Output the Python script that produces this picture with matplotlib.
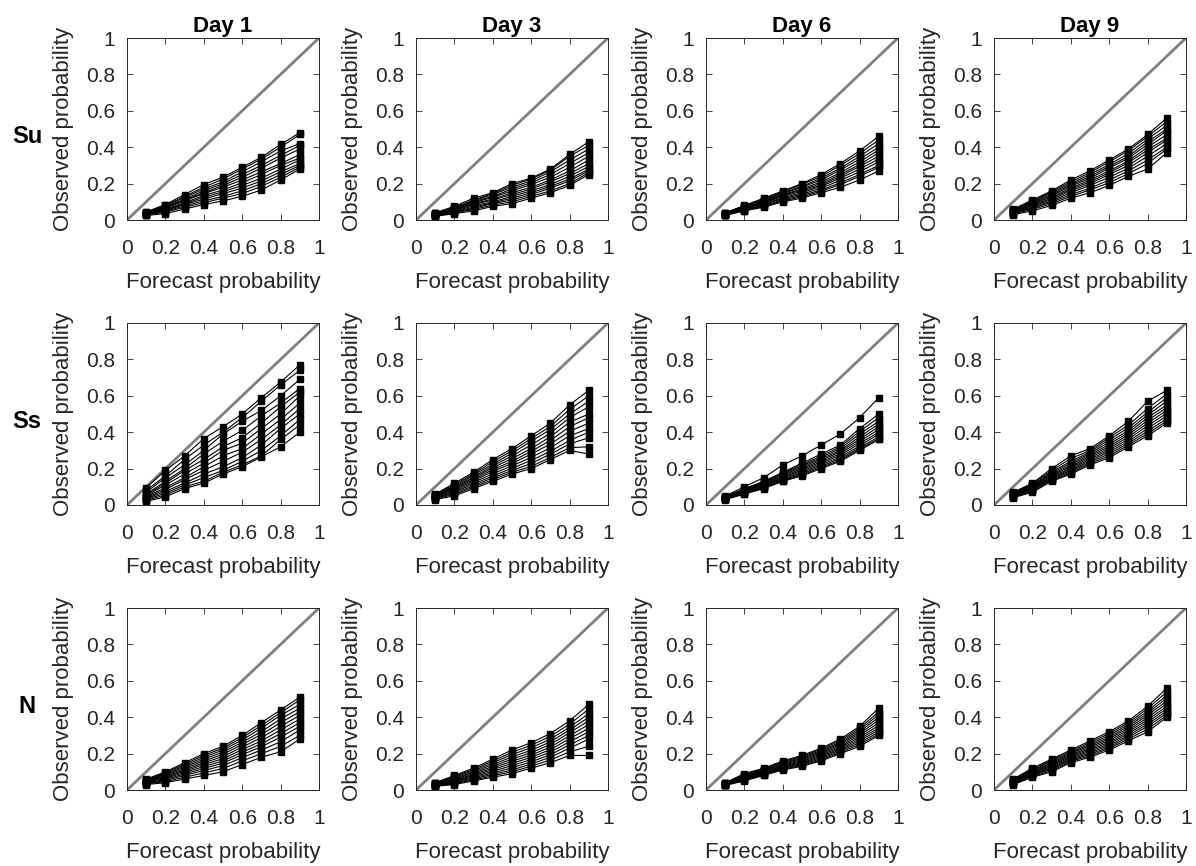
import matplotlib
matplotlib.use("Agg")
import matplotlib.pyplot as plt
import numpy as np

plt.rcParams['font.family'] = ['Liberation Sans', 'DejaVu Sans']

forecast_prob = [0.1, 0.2, 0.3, 0.4, 0.5, 0.6, 0.7, 0.8, 0.9]
row_labels = ['Su', 'Ss', 'N']
col_titles = ['Day 1', 'Day 3', 'Day 6', 'Day 9']
tick_vals = [0, 0.2, 0.4, 0.6, 0.8, 1]
tick_labels = ['0', '0.2', '0.4', '0.6', '0.8', '1']

su_day1 = [
    [.045, .085, .140, .195, .235, .290, .345, .415, .480],
    [.042, .080, .130, .180, .225, .280, .335, .400, .470],
    [.040, .075, .125, .170, .210, .265, .320, .380, .420],
    [.040, .072, .115, .160, .200, .250, .300, .355, .410],
    [.038, .068, .110, .150, .190, .235, .285, .340, .390],
    [.036, .065, .105, .145, .180, .220, .265, .310, .360],
    [.035, .060, .095, .135, .165, .205, .250, .300, .340],
    [.033, .055, .090, .125, .155, .190, .230, .280, .330],
    [.032, .052, .085, .115, .145, .175, .215, .265, .310],
    [.030, .048, .078, .105, .130, .160, .200, .250, .300],
    [.028, .043, .070, .095, .120, .145, .185, .235, .290],
    [.025, .035, .060, .085, .105, .130, .165, .220, .280],
]
su_day3 = [
    [.040, .075, .120, .150, .200, .230, .280, .360, .430],
    [.038, .070, .110, .145, .190, .225, .275, .350, .410],
    [.036, .066, .105, .140, .180, .215, .265, .330, .390],
    [.034, .062, .100, .130, .170, .205, .250, .310, .370],
    [.032, .058, .095, .125, .160, .195, .235, .290, .350],
    [.030, .055, .090, .115, .150, .180, .220, .270, .330],
    [.029, .052, .085, .110, .140, .170, .210, .255, .310],
    [.027, .048, .078, .100, .130, .160, .195, .240, .295],
    [.025, .045, .070, .095, .120, .150, .185, .225, .280],
    [.024, .042, .065, .090, .110, .140, .175, .215, .270],
    [.022, .038, .058, .082, .100, .130, .160, .200, .260],
    [.020, .035, .050, .075, .090, .120, .150, .190, .250],
]
su_day6 = [
    [.040, .080, .120, .160, .200, .250, .310, .380, .460],
    [.038, .076, .115, .155, .195, .240, .300, .365, .440],
    [.037, .072, .110, .150, .185, .230, .285, .350, .420],
    [.035, .070, .105, .145, .180, .220, .275, .335, .400],
    [.034, .067, .100, .140, .170, .210, .260, .320, .385],
    [.033, .064, .097, .135, .165, .200, .250, .305, .370],
    [.032, .062, .093, .130, .158, .192, .240, .295, .350],
    [.030, .060, .090, .122, .150, .185, .230, .280, .335],
    [.029, .057, .085, .117, .142, .175, .218, .265, .320],
    [.028, .055, .080, .110, .135, .165, .205, .250, .300],
    [.027, .052, .075, .105, .128, .158, .195, .240, .290],
    [.025, .050, .070, .100, .120, .150, .180, .220, .270],
]
su_day9 = [
    [.060, .110, .160, .220, .270, .330, .390, .470, .560],
    [.057, .105, .155, .210, .260, .320, .380, .460, .540],
    [.055, .100, .150, .200, .250, .305, .365, .445, .520],
    [.052, .095, .142, .192, .240, .295, .350, .430, .500],
    [.050, .090, .135, .185, .230, .285, .340, .415, .490],
    [.047, .085, .128, .175, .220, .270, .325, .400, .470],
    [.045, .080, .120, .168, .210, .260, .315, .385, .450],
    [.042, .075, .113, .160, .200, .250, .300, .370, .440],
    [.040, .070, .105, .150, .190, .235, .285, .350, .420],
    [.037, .065, .098, .140, .175, .220, .270, .330, .400],
    [.034, .058, .090, .130, .165, .205, .255, .310, .390],
    [.030, .050, .080, .120, .150, .190, .240, .280, .370],
]
ss_day1 = [
    [.095, .190, .270, .365, .430, .500, .590, .675, .770],
    [.080, .160, .250, .330, .400, .480, .570, .660, .740],
    [.070, .150, .220, .300, .390, .460, .520, .600, .690],
    [.060, .130, .200, .280, .350, .410, .490, .560, .640],
    [.055, .120, .190, .250, .320, .370, .450, .540, .620],
    [.050, .110, .170, .230, .300, .340, .420, .500, .600],
    [.045, .095, .150, .210, .270, .310, .390, .470, .560],
    [.040, .085, .140, .190, .240, .290, .360, .440, .530],
    [.035, .075, .120, .170, .210, .260, .330, .420, .500],
    [.030, .065, .110, .150, .190, .240, .300, .380, .470],
    [.025, .055, .100, .130, .180, .220, .270, .360, .440],
    [.020, .045, .090, .120, .170, .210, .265, .320, .400],
]
ss_day3 = [
    [.060, .120, .180, .250, .310, .380, .450, .550, .630],
    [.057, .112, .172, .238, .298, .365, .432, .525, .600],
    [.054, .105, .165, .225, .285, .350, .415, .500, .570],
    [.052, .100, .155, .215, .270, .330, .395, .480, .540],
    [.050, .095, .148, .205, .255, .310, .375, .455, .500],
    [.047, .090, .140, .195, .240, .295, .355, .430, .480],
    [.045, .085, .132, .185, .228, .280, .335, .405, .450],
    [.042, .078, .124, .172, .215, .262, .315, .380, .420],
    [.039, .072, .115, .160, .202, .245, .295, .355, .400],
    [.036, .065, .106, .150, .190, .228, .280, .335, .370],
    [.033, .058, .098, .140, .180, .212, .262, .315, .320],
    [.030, .050, .090, .130, .170, .200, .250, .300, .280],
]
ss_day6 = [
    [.050, .100, .150, .220, .270, .330, .390, .480, .590],
    [.045, .090, .130, .180, .230, .280, .330, .420, .500],
    [.043, .087, .126, .175, .222, .270, .320, .405, .480],
    [.042, .084, .122, .170, .215, .262, .310, .390, .460],
    [.040, .080, .118, .164, .208, .254, .300, .375, .445],
    [.039, .077, .114, .158, .200, .246, .292, .362, .430],
    [.037, .074, .110, .152, .193, .238, .283, .350, .415],
    [.036, .071, .106, .147, .186, .230, .274, .338, .400],
    [.034, .068, .101, .142, .178, .222, .264, .325, .390],
    [.033, .065, .097, .137, .171, .214, .255, .315, .375],
    [.031, .062, .093, .133, .165, .207, .247, .308, .365],
    [.030, .060, .090, .130, .160, .200, .240, .300, .360],
]
ss_day9 = [
    [.070, .120, .200, .270, .310, .380, .460, .570, .630],
    [.067, .115, .190, .255, .300, .370, .440, .530, .610],
    [.064, .110, .182, .240, .292, .358, .425, .510, .590],
    [.061, .106, .175, .230, .284, .345, .410, .495, .570],
    [.058, .102, .168, .220, .276, .333, .398, .480, .550],
    [.056, .098, .162, .212, .268, .322, .386, .465, .535],
    [.053, .094, .156, .204, .260, .312, .374, .450, .520],
    [.050, .090, .150, .197, .252, .302, .362, .435, .505],
    [.048, .086, .145, .190, .244, .292, .350, .420, .490],
    [.045, .081, .140, .183, .236, .281, .340, .405, .475],
    [.043, .076, .135, .176, .228, .270, .330, .392, .462],
    [.040, .070, .130, .170, .220, .260, .320, .380, .450],
]
n_day1 = [
    [.060, .100, .150, .200, .240, .300, .370, .440, .510],
    [.057, .095, .142, .190, .230, .288, .355, .425, .495],
    [.054, .090, .134, .180, .220, .275, .340, .410, .470],
    [.052, .085, .126, .170, .208, .262, .322, .390, .450],
    [.049, .080, .118, .160, .196, .250, .305, .370, .430],
    [.046, .075, .110, .150, .184, .236, .288, .350, .410],
    [.044, .070, .103, .140, .172, .222, .270, .330, .390],
    [.041, .064, .096, .129, .160, .208, .254, .310, .370],
    [.038, .058, .088, .118, .148, .194, .238, .290, .350],
    [.035, .052, .080, .107, .134, .178, .220, .265, .330],
    [.033, .046, .070, .094, .118, .160, .200, .240, .300],
    [.030, .040, .060, .080, .100, .140, .180, .210, .280],
]
n_day3 = [
    [.040, .080, .120, .170, .220, .260, .310, .380, .470],
    [.038, .075, .113, .160, .207, .246, .295, .362, .445],
    [.036, .070, .106, .150, .195, .232, .280, .345, .420],
    [.034, .065, .099, .140, .182, .218, .265, .330, .400],
    [.032, .060, .092, .130, .170, .205, .250, .315, .380],
    [.030, .056, .085, .121, .158, .192, .236, .298, .360],
    [.029, .052, .079, .112, .146, .180, .222, .282, .340],
    [.027, .048, .073, .103, .134, .168, .208, .265, .320],
    [.025, .044, .067, .094, .122, .155, .194, .248, .300],
    [.024, .040, .061, .086, .110, .143, .180, .230, .280],
    [.022, .035, .055, .078, .100, .131, .165, .210, .240],
    [.020, .030, .050, .070, .090, .120, .150, .190, .190],
]
n_day6 = [
    [.040, .090, .120, .160, .190, .230, .280, .350, .450],
    [.039, .085, .116, .155, .185, .224, .272, .340, .430],
    [.037, .081, .112, .150, .179, .217, .264, .330, .415],
    [.036, .077, .108, .145, .174, .211, .257, .320, .400],
    [.034, .073, .105, .140, .168, .205, .250, .310, .385],
    [.033, .069, .101, .135, .162, .198, .242, .300, .370],
    [.032, .066, .097, .130, .157, .192, .235, .290, .355],
    [.030, .063, .094, .126, .151, .185, .228, .280, .342],
    [.029, .060, .090, .122, .146, .179, .221, .270, .330],
    [.028, .057, .087, .118, .141, .172, .214, .260, .318],
    [.027, .053, .083, .114, .135, .166, .207, .250, .308],
    [.025, .050, .080, .110, .130, .160, .200, .240, .300],
]
n_day9 = [
    [.060, .120, .170, .220, .270, .320, .380, .460, .560],
    [.057, .115, .163, .213, .261, .310, .370, .447, .540],
    [.054, .110, .156, .206, .252, .300, .360, .434, .520],
    [.052, .105, .149, .200, .244, .290, .350, .422, .505],
    [.049, .100, .143, .193, .236, .281, .340, .410, .490],
    [.047, .096, .137, .187, .228, .272, .330, .398, .475],
    [.044, .092, .131, .181, .220, .263, .320, .386, .460],
    [.042, .088, .125, .175, .212, .254, .310, .374, .447],
    [.039, .084, .119, .169, .204, .245, .300, .362, .434],
    [.036, .080, .113, .163, .196, .237, .290, .350, .422],
    [.033, .075, .106, .157, .188, .229, .280, .335, .410],
    [.030, .070, .100, .150, .180, .220, .270, .320, .400],
]

panels = [
    [su_day1, su_day3, su_day6, su_day9],
    [ss_day1, ss_day3, ss_day6, ss_day9],
    [n_day1, n_day3, n_day6, n_day9],
]

W, H = 1196, 866
fig = plt.figure(figsize=(W / 100, H / 100), dpi=100)

lefts = [127, 416, 706, 994]
tops = [38, 323, 608]
aw, ah = 192, 182

tick_fs = 15
label_fs = 16
txt_col = '#262626'
for r in range(3):
    for c in range(4):
        ax = fig.add_axes([lefts[c] / W, 1 - (tops[r] + ah) / H, aw / W, ah / H])
        ax.plot([0, 1], [0, 1], color=(0.5, 0.5, 0.5), lw=2, zorder=1)
        for series in panels[r][c]:
            ax.plot(forecast_prob, series, color='black', lw=0.8, marker='s',
                    markersize=4.8, markerfacecolor='black', markeredgecolor='black',
                    zorder=2)
        ax.set_xlim(0, 1)
        ax.set_ylim(0, 1)
        ax.set_xticks(tick_vals)
        ax.set_xticklabels(tick_labels)
        ax.set_yticks(tick_vals)
        ax.set_yticklabels(tick_labels)
        ax.tick_params(direction='in', length=4, width=0.6, top=True, right=True,
                       labelsize=tick_fs, colors=txt_col)
        ax.tick_params(axis='x', pad=14)
        ax.tick_params(axis='y', pad=8.5)
        for sp in ax.spines.values():
            sp.set_linewidth(0.7)
            sp.set_color(txt_col)
        ax.set_xlabel('Forecast probability', fontsize=label_fs, color=txt_col, labelpad=10)
        ax.set_ylabel('Observed probability', fontsize=label_fs, color=txt_col, labelpad=9)
        if r == 0:
            ax.set_title(col_titles[c], fontsize=16, fontweight='bold', pad=4)
        if c == 0:
            fig.text(27 / W, 1 - (tops[r] + 105) / H, row_labels[r], fontsize=17,
                     fontweight='bold', ha='center', va='baseline')

fig.savefig('out.png', dpi=100)
